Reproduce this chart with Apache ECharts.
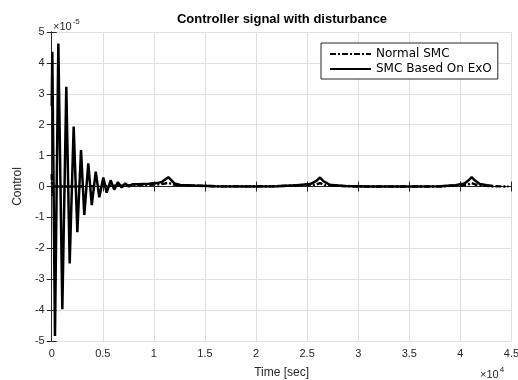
<!DOCTYPE html>
<html>
<head>
<meta charset="utf-8">
<script src="https://cdn.jsdelivr.net/npm/echarts@6/dist/echarts.min.js"></script>
<style>html,body{margin:0;padding:0;background:#fff}#c{width:518px;height:380px}</style>
</head>
<body>
<div id="c"></div>
<script>
// Time [sec]
var exoTime = [0, 60, 320, 650, 1040, 1430, 1760, 2150, 2510, 2870, 3190, 3580, 3920, 4310, 4660, 5050, 5380, 5770, 6120, 6480, 6850, 7200, 7550, 7900, 8500, 9500, 10300, 10800, 11200, 11420, 11650, 12000, 12600, 14000, 16000, 19000, 22000, 24000, 25300, 25900, 26270, 26600, 27200, 28500, 31000, 35000, 38000, 39500, 40400, 40800, 41100, 41400, 41900, 42600, 43200];
// Control (x 1e-5), SMC Based On ExO
var exoValue = [2.6, 4.36, -4.84, 4.63, -3.97, 3.23, -2.49, 1.94, -1.48, 1.18, -0.92, 0.75, -0.6, 0.48, -0.35, 0.29, -0.2, 0.2, -0.1, 0.14, -0.03, 0.1, 0.0, 0.07, 0.07, 0.09, 0.11, 0.15, 0.25, 0.3, 0.22, 0.1, 0.05, 0.03, 0.01, 0.0, 0.01, 0.04, 0.08, 0.18, 0.29, 0.17, 0.06, 0.02, 0.0, 0.0, 0.01, 0.04, 0.1, 0.2, 0.3, 0.2, 0.08, 0.04, 0.02];
// Normal SMC
var smcTime = [0, 80, 160, 300, 800, 3000, 7000, 10500, 11100, 11420, 11750, 12300, 16000, 22000, 25800, 26270, 26700, 30000, 38000, 40700, 41100, 41500, 43000, 44700];
var smcValue = [0.4, -0.3, 0.1, 0.0, 0.0, 0.0, 0.03, 0.07, 0.1, 0.12, 0.08, 0.04, 0.01, 0.01, 0.06, 0.11, 0.05, 0.0, 0.0, 0.06, 0.11, 0.06, 0.01, 0.0];
var xTicks = ['0', '0.5', '1', '1.5', '2', '2.5', '3', '3.5', '4', '4.5'];

function pairs(t, v) { return t.map(function (x, i) { return [x, v[i]]; }); }

var axisCol = '#262626';
var font = 'Liberation Sans, Arial, Helvetica, sans-serif';
var chart = echarts.init(document.getElementById('c'), null, {renderer: 'canvas'});
chart.setOption({
  animation: false,
  backgroundColor: '#fff',
  title: {
    text: 'Controller signal with disturbance',
    left: 282, top: 13, textAlign: 'center', padding: 0,
    textStyle: {fontFamily: font, fontSize: 13, fontWeight: 'bold', color: '#000'}
  },
  grid: {left: 51.7, right: 6.5, top: 32, bottom: 39, outerBoundsMode: 'none', containLabel: false},
  legend: {
    orient: 'vertical', left: 321, top: 43,
    padding: [5, 6, 4, 8], itemGap: 3, itemWidth: 41, itemHeight: 12,
    borderColor: axisCol, borderWidth: 1, backgroundColor: '#fff',
    itemStyle: {opacity: 0},
    textStyle: {fontFamily: 'DejaVu Sans, sans-serif', fontSize: 12, color: '#000'},
    data: ['Normal SMC', 'SMC Based On ExO']
  },
  xAxis: [{
    type: 'value', min: 0, max: 45000, interval: 5000, position: 'bottom',
    name: 'Time [sec]', nameLocation: 'middle', nameGap: 26,
    nameTextStyle: {fontFamily: font, fontSize: 12, color: axisCol},
    axisLine: {lineStyle: {color: axisCol, width: 1}},
    axisTick: {inside: true, length: 5, lineStyle: {color: axisCol}},
    axisLabel: {margin: 7, fontFamily: font, fontSize: 11, color: axisCol,
      formatter: function (v) { return xTicks[Math.round(v / 5000)]; }},
    splitLine: {show: true, lineStyle: {color: '#e0e0e0', width: 1}}
  }, {
    type: 'value', min: 0, max: 45000, interval: 5000, position: 'top',
    axisLine: {lineStyle: {color: axisCol, width: 1}},
    axisTick: {inside: true, length: 5, lineStyle: {color: axisCol}},
    axisLabel: {show: false}, splitLine: {show: false}
  }],
  yAxis: [{
    type: 'value', min: -5, max: 5, interval: 1, position: 'left',
    name: 'Control', nameLocation: 'middle', nameGap: 25,
    nameTextStyle: {fontFamily: font, fontSize: 12, color: axisCol},
    axisLine: {show: true, lineStyle: {color: axisCol, width: 1}},
    axisTick: {show: true, inside: true, length: 5, lineStyle: {color: axisCol}},
    axisLabel: {margin: 7, fontFamily: font, fontSize: 11, color: axisCol},
    splitLine: {show: true, lineStyle: {color: '#e0e0e0', width: 1}}
  }, {
    type: 'value', min: -5, max: 5, interval: 1, position: 'right',
    axisLine: {show: true, lineStyle: {color: axisCol, width: 1}},
    axisTick: {show: true, inside: true, length: 5, lineStyle: {color: axisCol}},
    axisLabel: {show: false}, splitLine: {show: false}
  }],
  graphic: [{
    type: 'text', left: 53, top: 18,
    style: {text: '{a|×10}{b|-5}', rich: {
      a: {fontFamily: font, fontSize: 11, fill: axisCol, padding: [4, 0, 0, 0]},
      b: {fontFamily: font, fontSize: 8, fill: axisCol, padding: [0, 0, 5, 1]}}}
  }, {
    type: 'text', left: 480, top: 366,
    style: {text: '{a|×10}{b|4}', rich: {
      a: {fontFamily: font, fontSize: 11, fill: axisCol, padding: [4, 0, 0, 0]},
      b: {fontFamily: font, fontSize: 8, fill: axisCol, padding: [0, 0, 5, 1]}}}
  }],
  series: [{
    name: 'Normal SMC', type: 'line', data: pairs(smcTime, smcValue),
    symbol: 'none', z: 3,
    lineStyle: {color: '#000', width: 2.5, type: [6, 2, 2, 2]},
    itemStyle: {color: '#000'}
  }, {
    name: 'SMC Based On ExO', type: 'line', data: pairs(exoTime, exoValue),
    symbol: 'none', z: 2,
    lineStyle: {color: '#000', width: 2.5},
    itemStyle: {color: '#000'}
  }]
});
</script>
</body>
</html>
